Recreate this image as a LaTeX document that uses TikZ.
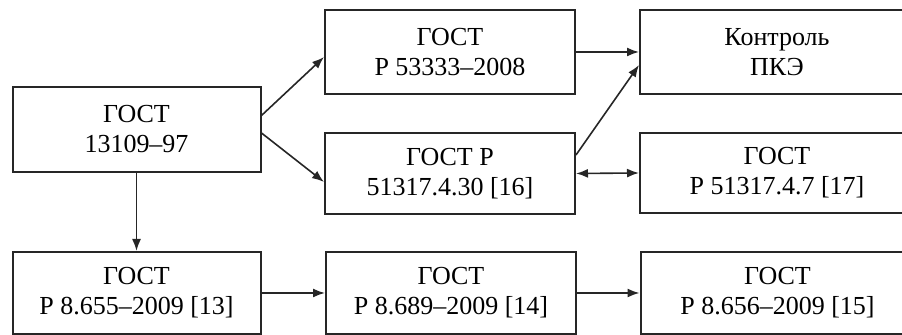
\documentclass[tikz,border=0pt]{standalone}
\usepackage{fontspec}
\setmainfont{Liberation Serif}
\usetikzlibrary{positioning,arrows.meta}

\begin{document}
\begin{tikzpicture}[
    x=0.5pt, y=-0.5pt,
    doc/.style={rectangle, draw=black!85, line width=1pt, align=center,
        minimum width=124pt, minimum height=41pt, inner sep=0pt,
        font=\rmfamily\fontsize{13}{15}\selectfont},
    wide/.style={doc, minimum width=137pt},
    arr/.style={-{Latex[length=6pt,width=4.5pt]}, line width=0.8pt, black!85},
    biarr/.style={{Latex[length=6pt,width=4.5pt]}-{Latex[length=6pt,width=4.5pt]}, line width=0.8pt, black!85}
]
    \useasboundingbox (0,0) rectangle (902,335);
    \clip (0,0) rectangle (902,335);

    % Left column
    \node[doc, minimum height=42.5pt] (gost13109) at (136.5,129.5) {ГОСТ\\13109–97};
    \node[doc] (gost8p655) at (136.5,293) {ГОСТ\\Р 8.655–2009 [13]};

    % Middle column
    \node[doc, minimum width=125pt, minimum height=42pt] (gost53333) at (450,52) {ГОСТ\\Р 53333–2008};
    \node[doc, minimum width=125pt, minimum height=40.5pt] (gost4p30) at (450,173.5) {ГОСТ Р\\51317.4.30 [16]};
    \node[doc, minimum width=125pt] (gost8p689) at (451,293) {ГОСТ\\Р 8.689–2009 [14]};

    % Right column (cut by the edge)
    \node[wide, minimum height=42pt] (pke) at (777,52) {Контроль\\ПКЭ};
    \node[wide, minimum height=40pt] (gost4p7) at (777,173) {ГОСТ\\Р 51317.4.7 [17]};
    \node[wide] (gost8p656) at (777.5,293) {ГОСТ\\Р 8.656–2009 [15]};

    % Links
    \draw[arr] ([yshift=7pt]gost13109.east) -- ([yshift=-2.5pt]gost53333.west);
    \draw[arr] ([yshift=-1.75pt]gost13109.east) -- ([yshift=-4.25pt]gost4p30.west);
    \draw[arr] (gost13109.south) -- (gost8p655.north);
    \draw[arr] (gost53333.east) -- (pke.west);
    \draw[arr] ([yshift=9.25pt]gost4p30.east) -- ([yshift=-6.5pt]pke.west);
    \draw[biarr] (gost4p30.east) -- (gost4p7.west);
    \draw[arr] (gost8p655.east) -- (gost8p689.west);
    \draw[arr] (gost8p689.east) -- (gost8p656.west);
\end{tikzpicture}
\end{document}
